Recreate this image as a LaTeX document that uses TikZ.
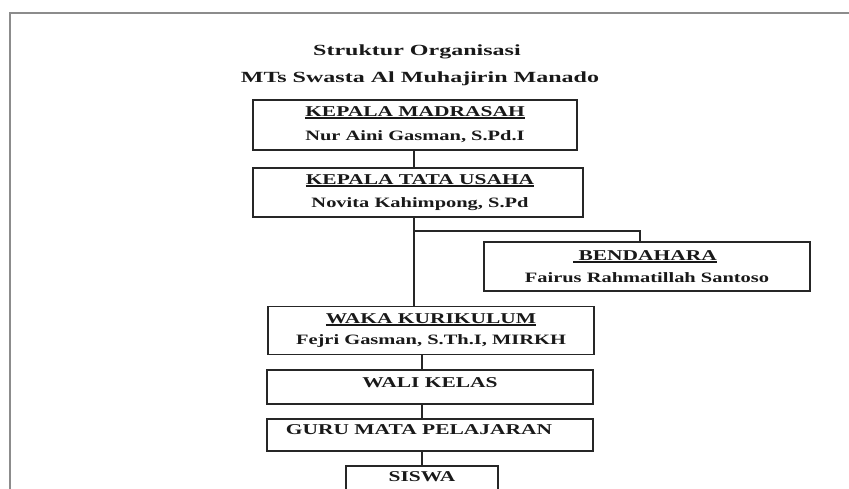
\documentclass[tikz,border=0pt]{standalone}
\usepackage{fontspec}
\setmainfont{Liberation Serif}[FakeStretch=1.43]
\newfontfamily\ttlfont{Liberation Serif}[FakeStretch=1.55]
\newcommand\myul[1]{\leavevmode\vtop{\hbox{#1}\kern1.2pt\hrule height 1.3pt}}
\begin{document}
\begin{tikzpicture}[x=1pt,y=-1pt,
  box/.style={draw=black!85, line width=1.5pt, inner sep=0pt},
  conn/.style={draw=black!85, line width=1.5pt},
  lbl/.style={inner sep=0pt, anchor=base, font=\bfseries\fontsize{15}{18}\selectfont, text=black!90},
  nm/.style={inner sep=0pt, anchor=base, font=\bfseries\fontsize{14.3}{17}\selectfont, text=black!90},
  ttl/.style={inner sep=0pt, anchor=base, font=\ttlfont\bfseries\fontsize{15.5}{18}\selectfont, text=black!90}]
\useasboundingbox (0,0) rectangle (849,488);
\clip (0,0) rectangle (849,488);
\draw[black!45, line width=2pt] (851,13) -- (10,13) -- (10,492);
% titles
\node[ttl] (t1) at (417,55) {Struktur Organisasi};
\node[ttl] (t2) at (420,82) {MTs Swasta Al Muhajirin Manado};
% boxes
\node[box, minimum width=324pt, minimum height=50pt] (km) at (415,125) {};
\node[box, minimum width=330pt, minimum height=49pt] (ktu) at (418,192.5) {};
\node[box, minimum width=326pt, minimum height=49pt] (ben) at (647,266.5) {};
\node[box, minimum width=326pt, minimum height=48pt] (waka) at (431,330.5) {};
\node[box, minimum width=326pt, minimum height=34pt] (wali) at (430,387) {};
\node[box, minimum width=326pt, minimum height=32pt] (guru) at (430,435) {};
\node[box, minimum width=152pt, minimum height=40pt] (siswa) at (422,486) {};
% labels
\node[lbl] (kmh) at (415,116) {\myul{KEPALA MADRASAH}};
\node[nm] (kmn) at (415,140) {Nur Aini Gasman, S.Pd.I};
\node[lbl] (ktuh) at (420,184) {\myul{KEPALA TATA USAHA}};
\node[nm] (ktun) at (420,207) {Novita Kahimpong, S.Pd};
\node[lbl] (benh) at (645,260) {\myul{\ BENDAHARA}};
\node[nm] (benn) at (647,282) {Fairus Rahmatillah Santoso};
\node[lbl] (wakah) at (431,323) {\myul{WAKA KURIKULUM}};
\node[nm] (wakan) at (431,344) {Fejri Gasman, S.Th.I, MIRKH};
\node[lbl] (walit) at (430,387) {WALI KELAS};
\node[lbl] (gurut) at (419,434) {GURU MATA PELAJARAN};
\node[lbl] (siswat) at (422,481) {SISWA};
% connectors
\coordinate (j) at (414,231);
\coordinate (bj) at (640,231);
\coordinate (lx) at (422,0);
\draw[conn] (j |- km.south) -- (j |- ktu.north);
\draw[conn] (j |- ktu.south) -- (j |- waka.north);
\draw[conn] (j) -- (bj) -- (bj |- ben.north);
\draw[conn] (lx |- waka.south) -- (lx |- wali.north);
\draw[conn] (lx |- wali.south) -- (lx |- guru.north);
\draw[conn] (lx |- guru.south) -- (lx |- siswa.north);
\end{tikzpicture}
\end{document}
